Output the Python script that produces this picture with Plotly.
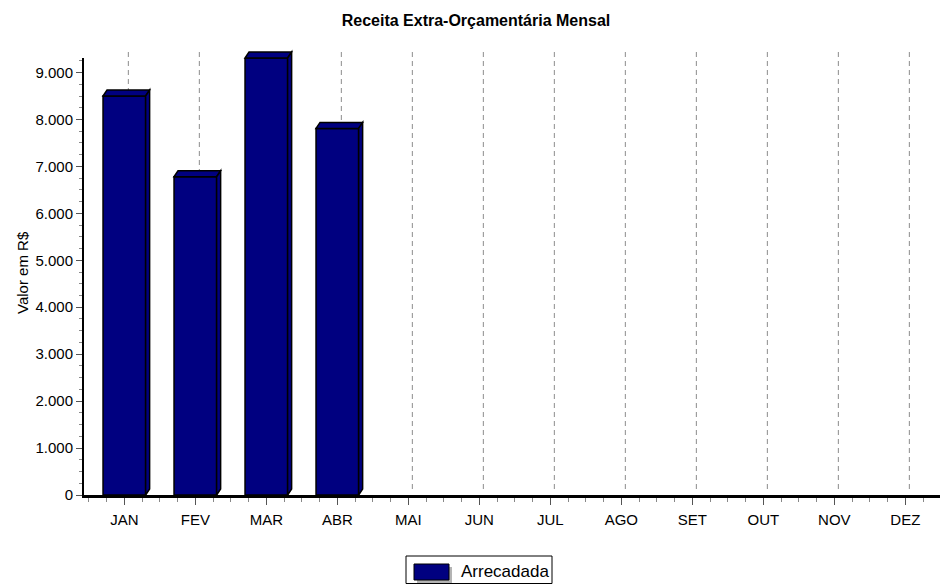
import plotly.graph_objects as go

# ---- data ----
months = ["JAN", "FEV", "MAR", "ABR", "MAI", "JUN", "JUL", "AGO", "SET", "OUT", "NOV", "DEZ"]
arrecadada = [8500, 6780, 9310, 7810, None, None, None, None, None, None, None, None]
series_name = "Arrecadada"
chart_title = "Receita Extra-Orçamentária Mensal"
y_title = "Valor em R$"

# ---- layout constants ----
W, H = 940, 584
ML, MR, MT, MB = 84, 0, 58, 89
PW, PH = W - ML - MR, H - MT - MB
YMAX = 9310
XMIN, XMAX = -0.568, 11.488
unit_px = PW / (XMAX - XMIN)
BAR_W = 0.6
DX = 4 / unit_px          # 3D depth in x units
DY = 6 / PH               # 3D depth in paper units
NAVY = "#000080"
FONT = "Arial, Liberation Sans, sans-serif"

def px_x(p):
    return (p - ML) / PW

def px_y(p):
    return (H - MB - p) / PH

xs = list(range(len(months)))

fig = go.Figure()
fig.add_trace(go.Bar(
    x=xs, y=arrecadada, name=series_name, width=BAR_W,
    marker=dict(color=NAVY, line=dict(color="black", width=1.5)),
    showlegend=False, cliponaxis=False,
))

shapes = []
# dashed back-wall grid lines (offset for 3D depth)
for i in xs:
    shapes.append(dict(type="line", xref="x", yref="paper",
                       x0=i + DX, x1=i + DX, y0=DY, y1=1 + DY,
                       line=dict(color="#8c8c8c", width=1, dash="5px,4px"),
                       layer="below"))
# 3D top and side faces of the bars
for i, v in zip(xs, arrecadada):
    if v is None:
        continue
    yp = v / YMAX
    x0, x1 = i - BAR_W / 2, i + BAR_W / 2
    top = f"M {x0},{yp} L {x0 + DX},{yp + DY} L {x1 + DX},{yp + DY} L {x1},{yp} Z"
    side = f"M {x1},{yp} L {x1 + DX},{yp + DY} L {x1 + DX},{DY} L {x1},0 Z"
    for p in (top, side):
        shapes.append(dict(type="path", xref="x", yref="paper", path=p,
                           fillcolor=NAVY, line=dict(color="black", width=1.5),
                           layer="above"))

# custom legend
shapes.append(dict(type="rect", xref="paper", yref="paper",
                   x0=px_x(406), x1=px_x(552), y0=px_y(583.5), y1=px_y(556),
                   line=dict(color="black", width=1), fillcolor="white"))
shapes.append(dict(type="rect", xref="paper", yref="paper",
                   x0=px_x(417), x1=px_x(452), y0=px_y(583), y1=px_y(567),
                   line=dict(width=0), fillcolor="#b4b4b4"))
shapes.append(dict(type="rect", xref="paper", yref="paper",
                   x0=px_x(414), x1=px_x(449), y0=px_y(580), y1=px_y(564),
                   line=dict(color="black", width=1), fillcolor=NAVY))

annotations = [
    dict(text=series_name, xref="paper", yref="paper", x=px_x(459), y=px_y(571),
         xanchor="left", yanchor="middle", showarrow=False,
         font=dict(family=FONT, size=17, color="black")),
    dict(text=y_title, xref="paper", yref="paper", x=px_x(22), y=px_y(273),
         xanchor="center", yanchor="middle", textangle=-90, showarrow=False,
         font=dict(family=FONT, size=15, color="black")),
]

fig.update_layout(
    width=W, height=H,
    margin=dict(l=ML, r=MR, t=MT, b=MB, autoexpand=False),
    paper_bgcolor="white", plot_bgcolor="white",
    separators=",.",
    font=dict(family=FONT, size=15, color="black"),
    title=dict(text=f"<b>{chart_title}</b>", x=476 / W, xanchor="center",
               y=1 - 20 / H, yanchor="middle",
               font=dict(family=FONT, size=16, color="black")),
    shapes=shapes, annotations=annotations,
    showlegend=False, bargap=0.4,
)
fig.update_xaxes(
    range=[XMIN, XMAX], tickmode="array", tickvals=xs, ticktext=months,
    showgrid=False, zeroline=False,
    showline=True, linecolor="black", linewidth=3,
    ticks="outside", ticklen=7, tickwidth=1, tickcolor="#555",
    minor=dict(tickmode="linear", tick0=0, dtick=0.25, ticks="outside",
               ticklen=4, tickwidth=1, tickcolor="#888"),
    tickfont=dict(family=FONT, size=15, color="black"),
    ticklabelstandoff=2,
)
fig.update_yaxes(
    range=[0, YMAX], dtick=1000, tick0=0, tickformat=",d",
    showgrid=False, zeroline=False,
    showline=True, linecolor="black", linewidth=2,
    ticks="outside", ticklen=6, tickwidth=1, tickcolor="#555",
    minor=dict(tickmode="linear", tick0=0, dtick=250, ticks="outside",
               ticklen=3, tickwidth=1, tickcolor="#888"),
    tickfont=dict(family=FONT, size=15, color="black"),
)

fig.write_html(
    "out.html",
    config={"displayModeBar": False},
    post_script="document.body.style.margin='0';document.body.style.overflow='hidden';",
)
